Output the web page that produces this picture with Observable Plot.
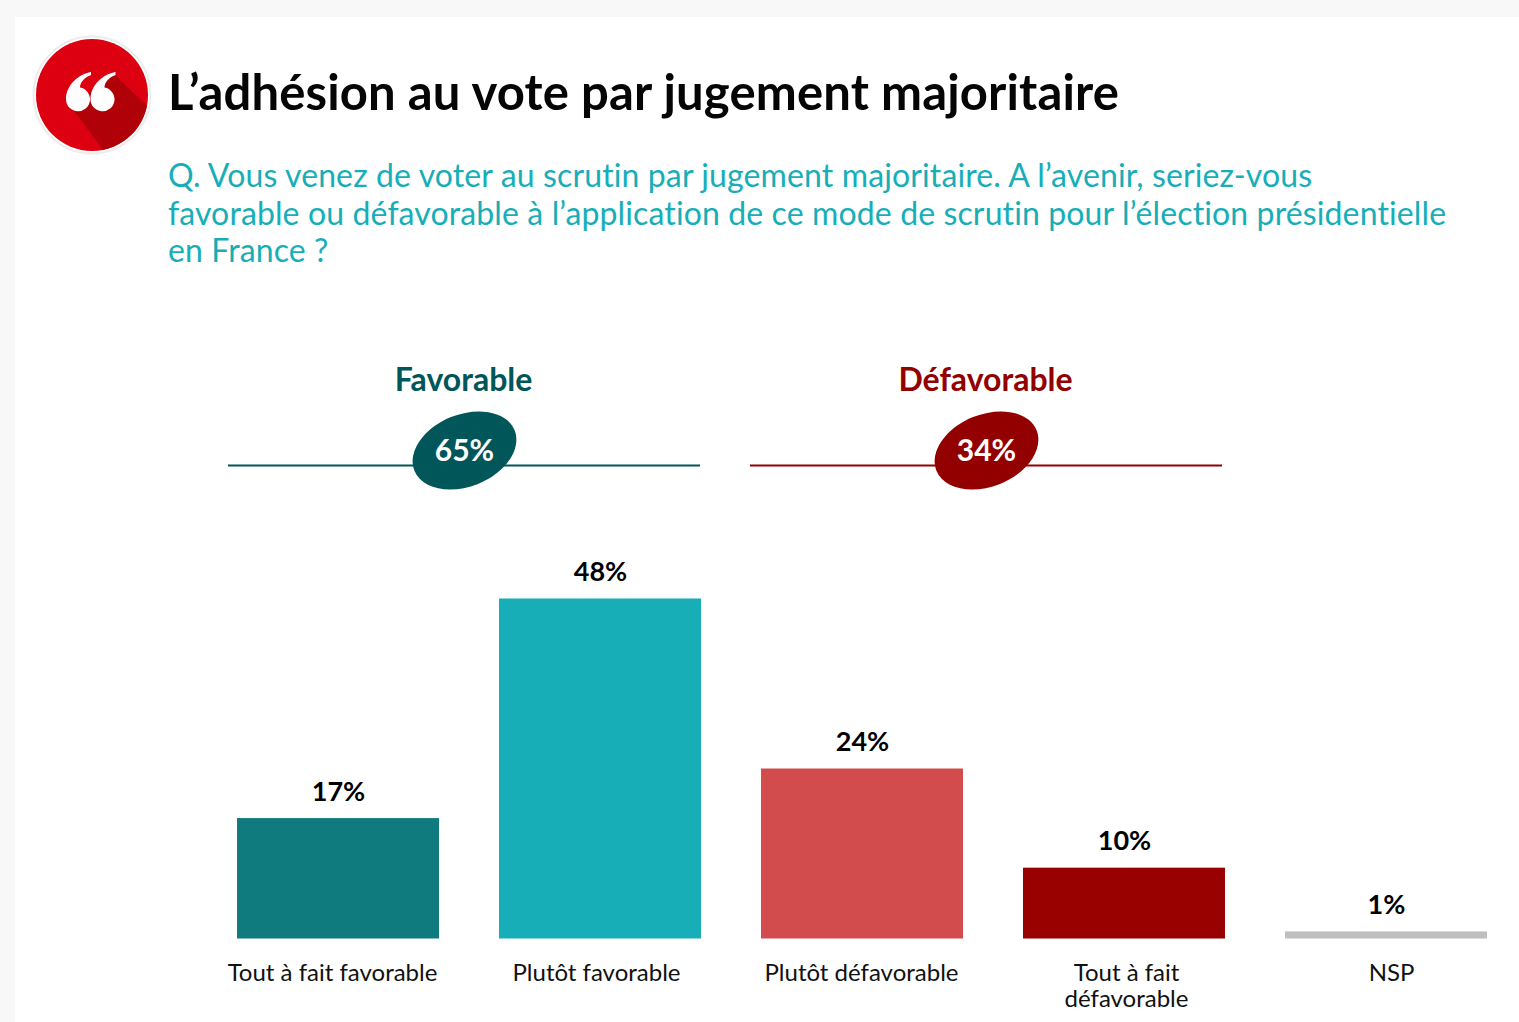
<!DOCTYPE html>
<html lang="fr">
<head>
<meta charset="utf-8">
<script src="https://cdn.jsdelivr.net/npm/d3@7"></script>
<script src="https://cdn.jsdelivr.net/npm/@observablehq/plot@0.6"></script>
<style>
html,body{margin:0;padding:0;width:1519px;height:1022px;overflow:hidden;background:#f8f8f8;font-family:Lato,sans-serif;font-variant-ligatures:none}
#panel{position:absolute;left:15px;top:17px;right:0;bottom:0;background:#fff}
#title{position:absolute;left:168px;top:63px;margin:0;font-size:49px;line-height:56px;font-weight:700;letter-spacing:.14px;color:#050505;white-space:nowrap}
#sub{position:absolute;left:168px;top:156px;margin:0;font-size:32px;line-height:37.5px;letter-spacing:.12px;color:#17aeb8;white-space:nowrap}
#logo{position:absolute;left:30px;top:33px}
#head,#bars{position:absolute;left:0}
#head{top:350px}#bars{top:0}
svg{background:transparent}
svg text{font-variant-ligatures:none}
</style>
</head>
<body>
<div id="panel"></div>
<svg id="logo" width="124" height="124" viewBox="30 33 124 124" aria-hidden="true">
<defs><clipPath id="c"><circle cx="92" cy="95" r="56"/></clipPath>
<path id="q" d="M91 72 C79 74 66 85 66 99 A12 12 0 1 0 80 87.5 C80 82 85 77 91 75 Z"/></defs>
<circle cx="92" cy="95" r="58.5" fill="#fff" stroke="#ececec" stroke-width="2"/>
<circle cx="92" cy="95" r="56" fill="#dc0010"/>
<path clip-path="url(#c)" d="M112 72 L170 128 L118 170 L72 108 Z" fill="#b00008"/>
<use href="#q" fill="#fff"/><use href="#q" x="24.5" fill="#fff"/>
</svg>
<h1 id="title">L’adhésion au vote par jugement majoritaire</h1>
<p id="sub">Q. Vous venez de voter au scrutin par jugement majoritaire. A l’avenir, seriez-vous<br>favorable ou défavorable à l’application de ce mode de scrutin pour l’élection présidentielle<br>en France ?</p>
<div id="head"></div>
<div id="bars"></div>
<script>
const categories = ["Tout à fait favorable","Plutôt favorable","Plutôt défavorable","Tout à fait\ndéfavorable","NSP"];
const values = [17,48,24,10,1];
const barColors = ["#0f7b7e","#17aeb8","#d24c4e","#990000","#bfbfbf"];
const groups = ["Favorable","Défavorable"];
const totals = [65,34];
const groupColors = ["#005659","#920000"];

const font = "Lato, sans-serif";
// tilted badge, drawn as four bezier arcs
const badge = {draw(ctx){
  const a=54,b=36,t=-22*Math.PI/180,k=0.5523,c=Math.cos(t),s=Math.sin(t);
  const p=(x,y)=>[x*c-y*s,x*s+y*c];
  ctx.moveTo(...p(a,0));
  ctx.bezierCurveTo(...p(a,k*b),...p(k*a,b),...p(0,b));
  ctx.bezierCurveTo(...p(-k*a,b),...p(-a,k*b),...p(-a,0));
  ctx.bezierCurveTo(...p(-a,-k*b),...p(-k*a,-b),...p(0,-b));
  ctx.bezierCurveTo(...p(k*a,-b),...p(a,-k*b),...p(a,0));
  ctx.closePath();
}};
const gi = d => groups.indexOf(d);

document.getElementById("head").append(Plot.plot({
  width:1519,height:150,margin:0,
  style:{background:"transparent",fontFamily:font},
  x:{axis:null,domain:groups,range:[228,1223],paddingInner:0.095,paddingOuter:0},
  y:{axis:null,domain:[0,1],range:[115,0]},
  marks:[
    Plot.tickY(groups,{x:d=>d,y:()=>0,stroke:d=>groupColors[gi(d)],strokeWidth:2}),
    Plot.dot(groups,{x:d=>d,y:()=>0,dy:-15,symbol:badge,fill:d=>groupColors[gi(d)],stroke:"none"}),
    Plot.text(groups,{x:d=>d,y:()=>0,dy:-14,text:d=>totals[gi(d)]+"%",fill:"#fff",fontWeight:700,fontSize:30}),
    Plot.text(groups,{x:d=>d,y:()=>0,dy:-85,dx:-1,text:d=>d,fill:d=>groupColors[gi(d)],fontWeight:700,fontSize:32}),
  ]
}));

const labelShift = [-5,-3,0,3,6];
document.getElementById("bars").append(Plot.plot({
  width:1519,height:1022,margin:0,
  style:{background:"transparent",fontFamily:font},
  x:{axis:null,domain:categories,range:[236.5,1487.5],paddingInner:0.23,paddingOuter:0},
  y:{axis:null,domain:[0,48],range:[938.5,598.5]},
  marks:[
    Plot.barY(categories,{x:d=>d,y:d=>values[categories.indexOf(d)],fill:d=>barColors[categories.indexOf(d)]}),
    Plot.text(categories,{x:d=>d,y:d=>values[categories.indexOf(d)],text:d=>values[categories.indexOf(d)]+"%",lineAnchor:"bottom",dy:-18,fill:"#000",fontWeight:700,fontSize:27}),
    ...categories.map((c,i)=>Plot.text([c],{x:d=>d,y:()=>0,text:d=>d,lineAnchor:"top",dy:23,dx:labelShift[i]-1,fill:"#111",fontSize:24,lineHeight:1.09}))
  ]
}));
</script>
</body>
</html>
